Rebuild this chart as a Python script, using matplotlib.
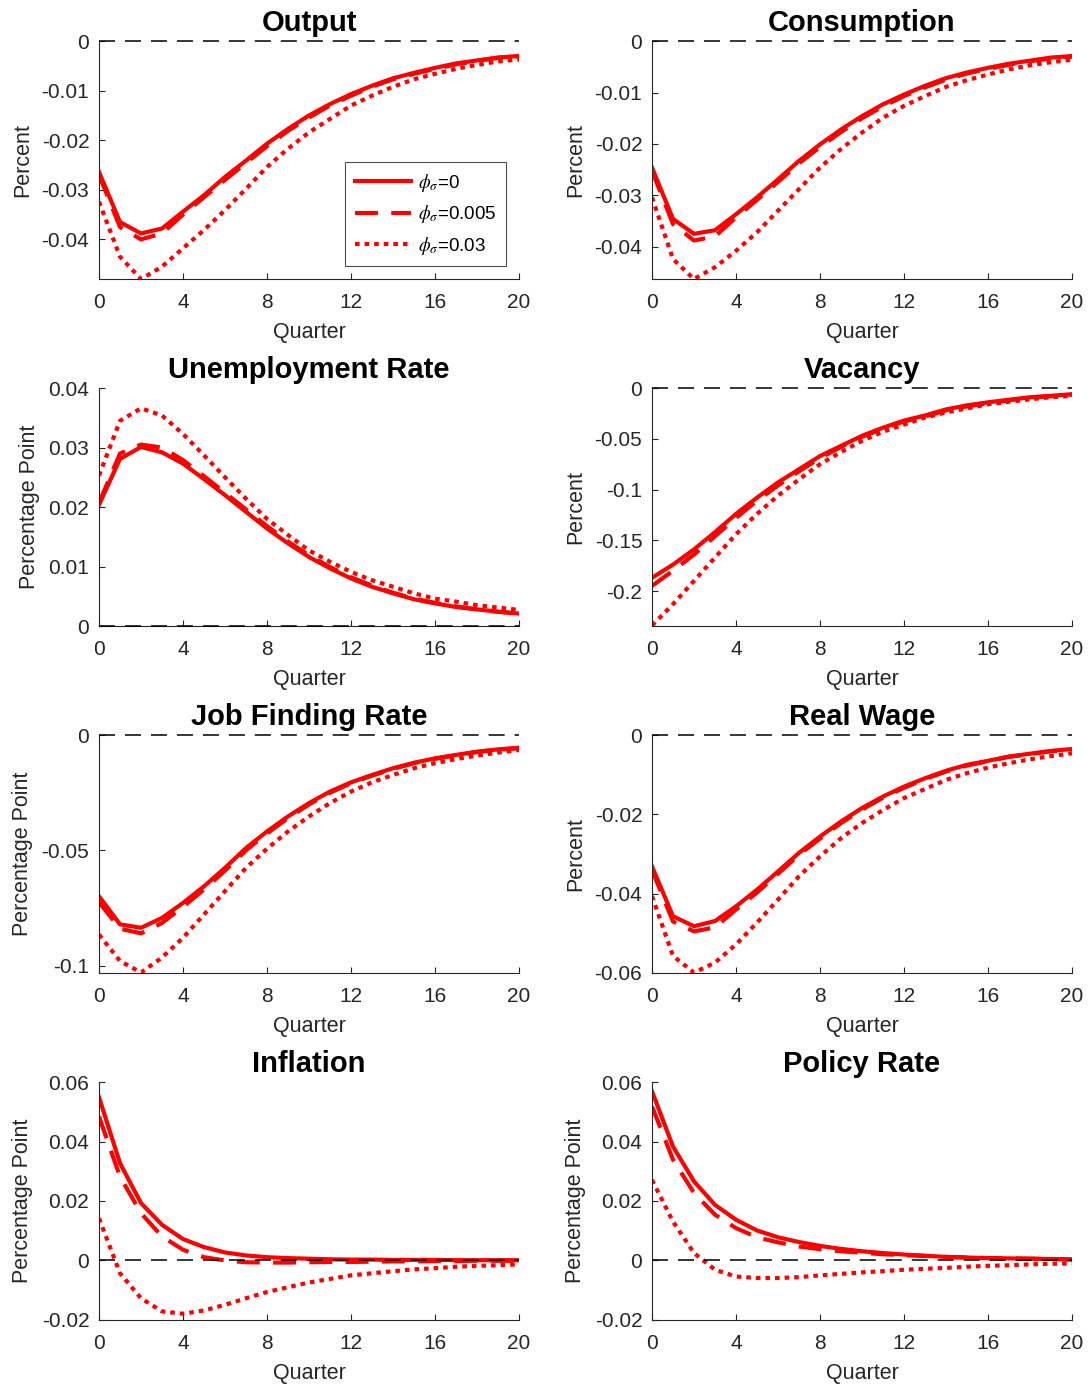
import numpy as np
import matplotlib
matplotlib.use("Agg")
import matplotlib.pyplot as plt
from matplotlib.ticker import FuncFormatter

plt.rcParams['font.family'] = ['Liberation Sans', 'DejaVu Sans']
plt.rcParams['axes.unicode_minus'] = False
plt.rcParams['mathtext.fontset'] = 'stix'

quarters = np.arange(21)

# impulse responses: phi_sigma = 0 / 0.005 / 0.03
output_0 = [-0.0264, -0.0365, -0.0388, -0.0378, -0.0344, -0.0311, -0.0274, -0.0241, -0.0207, -0.0177,
            -0.0150, -0.0127, -0.0107, -0.0090, -0.0075, -0.0064, -0.0054, -0.0045, -0.0039, -0.0033, -0.0030]
output_1 = [-0.0270, -0.0375, -0.0400, -0.0388, -0.0350, -0.0315, -0.0280, -0.0246, -0.0212, -0.0181,
            -0.0154, -0.0130, -0.0110, -0.0092, -0.0077, -0.0066, -0.0056, -0.0047, -0.0040, -0.0034, -0.0031]
output_2 = [-0.0324, -0.0435, -0.0480, -0.0455, -0.0418, -0.0381, -0.0341, -0.0298, -0.0254, -0.0217,
            -0.0184, -0.0157, -0.0130, -0.0110, -0.0092, -0.0077, -0.0066, -0.0056, -0.0048, -0.0041, -0.0037]

cons_0 = [-0.0246, -0.0346, -0.0375, -0.0368, -0.0337, -0.0304, -0.0269, -0.0233, -0.0201, -0.0172,
          -0.0146, -0.0123, -0.0104, -0.0087, -0.0072, -0.0061, -0.0052, -0.0044, -0.0038, -0.0032, -0.0029]
cons_1 = [-0.0252, -0.0356, -0.0388, -0.0380, -0.0343, -0.0309, -0.0274, -0.0238, -0.0206, -0.0177,
          -0.0150, -0.0127, -0.0107, -0.0090, -0.0075, -0.0063, -0.0054, -0.0046, -0.0039, -0.0034, -0.0030]
cons_2 = [-0.0304, -0.0424, -0.0463, -0.0440, -0.0408, -0.0372, -0.0330, -0.0288, -0.0246, -0.0210,
          -0.0178, -0.0149, -0.0126, -0.0107, -0.0089, -0.0076, -0.0065, -0.0055, -0.0047, -0.0041, -0.0036]

unemp_0 = [0.0204, 0.0281, 0.0301, 0.0292, 0.0273, 0.0247, 0.0220, 0.0192, 0.0164, 0.0139,
           0.0116, 0.0097, 0.0080, 0.0066, 0.0055, 0.0045, 0.0038, 0.0032, 0.0028, 0.0024, 0.0021]
unemp_1 = [0.0207, 0.0290, 0.0305, 0.0300, 0.0279, 0.0252, 0.0224, 0.0196, 0.0168, 0.0142,
           0.0119, 0.0099, 0.0082, 0.0068, 0.0056, 0.0046, 0.0039, 0.0033, 0.0028, 0.0024, 0.0021]
unemp_2 = [0.0253, 0.0345, 0.0366, 0.0354, 0.0323, 0.0287, 0.0250, 0.0214, 0.0180, 0.0153,
           0.0127, 0.0108, 0.0091, 0.0077, 0.0066, 0.0055, 0.0046, 0.0041, 0.0035, 0.0031, 0.0027]

vac_0 = [-0.187, -0.174, -0.159, -0.142, -0.124, -0.108, -0.093, -0.080, -0.067, -0.057,
         -0.047, -0.039, -0.032, -0.027, -0.021, -0.017, -0.014, -0.0115, -0.009, -0.0076, -0.006]
vac_1 = [-0.195, -0.180, -0.164, -0.146, -0.128, -0.111, -0.096, -0.082, -0.069, -0.058,
         -0.048, -0.040, -0.033, -0.028, -0.022, -0.018, -0.015, -0.012, -0.0095, -0.008, -0.0065]
vac_2 = [-0.234, -0.213, -0.190, -0.167, -0.144, -0.124, -0.106, -0.090, -0.075, -0.063,
         -0.052, -0.043, -0.036, -0.029, -0.024, -0.020, -0.016, -0.0135, -0.011, -0.009, -0.0076]

jfr_0 = [-0.0699, -0.0821, -0.0836, -0.0793, -0.0728, -0.0656, -0.0576, -0.0490, -0.0418, -0.0353,
         -0.0295, -0.0245, -0.0205, -0.0173, -0.0144, -0.0120, -0.0101, -0.0086, -0.0072, -0.0062, -0.0055]
jfr_1 = [-0.0725, -0.0840, -0.0860, -0.0815, -0.0745, -0.0670, -0.0588, -0.0500, -0.0427, -0.0360,
         -0.0301, -0.0250, -0.0209, -0.0176, -0.0147, -0.0122, -0.0103, -0.0088, -0.0074, -0.0064, -0.0057]
jfr_2 = [-0.0865, -0.0980, -0.1030, -0.0965, -0.0879, -0.0778, -0.0677, -0.0576, -0.0493, -0.0418,
         -0.0353, -0.0295, -0.0245, -0.0205, -0.0173, -0.0144, -0.0122, -0.0104, -0.0089, -0.0076, -0.0065]

wage_0 = [-0.0331, -0.0457, -0.0482, -0.0469, -0.0432, -0.0390, -0.0344, -0.0297, -0.0256, -0.0218,
          -0.0184, -0.0155, -0.0130, -0.0109, -0.0090, -0.0075, -0.0065, -0.0054, -0.0047, -0.0040, -0.0035]
wage_1 = [-0.0340, -0.0470, -0.0495, -0.0485, -0.0440, -0.0397, -0.0350, -0.0302, -0.0261, -0.0222,
          -0.0188, -0.0158, -0.0133, -0.0111, -0.0092, -0.0077, -0.0066, -0.0055, -0.0048, -0.0041, -0.0036]
wage_2 = [-0.0406, -0.0557, -0.0599, -0.0574, -0.0528, -0.0473, -0.0415, -0.0356, -0.0306, -0.0260,
          -0.0222, -0.0189, -0.0159, -0.0136, -0.0113, -0.0096, -0.0082, -0.0071, -0.0061, -0.0053, -0.0046]

infl_0 = [0.0549, 0.0327, 0.0193, 0.0120, 0.0072, 0.0045, 0.0027, 0.0017, 0.0011, 0.0008,
          0.0006, 0.0004, 0.0003, 0.0003, 0.0002, 0.0002, 0.0002, 0.0001, 0.0001, 0.0001, 0.0001]
infl_1 = [0.0484, 0.0282, 0.0159, 0.0081, 0.0036, 0.0011, 0.0000, -0.0006, -0.0007, -0.0007,
          -0.0006, -0.0005, -0.0005, -0.0004, -0.0003, -0.0003, -0.0002, -0.0002, -0.0001, -0.0001, -0.0001]
infl_2 = [0.0142, -0.0043, -0.0127, -0.0171, -0.0179, -0.0168, -0.0149, -0.0127, -0.0106, -0.0090,
          -0.0074, -0.0062, -0.0050, -0.0043, -0.0036, -0.0030, -0.0026, -0.0021, -0.0018, -0.0016, -0.0013]

rate_0 = [0.0569, 0.0383, 0.0266, 0.0187, 0.0137, 0.0101, 0.0078, 0.0062, 0.0049, 0.0039,
          0.0031, 0.0025, 0.0020, 0.0016, 0.0012, 0.0010, 0.0008, 0.0007, 0.0006, 0.0005, 0.0004]
rate_1 = [0.0518, 0.0339, 0.0227, 0.0154, 0.0109, 0.0078, 0.0061, 0.0047, 0.0038, 0.0031,
          0.0026, 0.0021, 0.0018, 0.0015, 0.0012, 0.0010, 0.0008, 0.0007, 0.0006, 0.0005, 0.0003]
rate_2 = [0.0271, 0.0131, 0.0025, -0.0031, -0.0054, -0.0059, -0.0059, -0.0056, -0.0050, -0.0045,
          -0.0040, -0.0036, -0.0031, -0.0028, -0.0025, -0.0021, -0.0018, -0.0016, -0.0013, -0.0011, -0.0010]

titles = ["Output", "Consumption", "Unemployment Rate", "Vacancy",
          "Job Finding Rate", "Real Wage", "Inflation", "Policy Rate"]
ylabels = ["Percent", "Percent", "Percentage Point", "Percent",
           "Percentage Point", "Percent", "Percentage Point", "Percentage Point"]
series = [(output_0, output_1, output_2), (cons_0, cons_1, cons_2),
          (unemp_0, unemp_1, unemp_2), (vac_0, vac_1, vac_2),
          (jfr_0, jfr_1, jfr_2), (wage_0, wage_1, wage_2),
          (infl_0, infl_1, infl_2), (rate_0, rate_1, rate_2)]
ylims = [(-0.048, 0), (-0.0463, 0), (0, 0.04), (-0.2345, 0),
         (-0.1032, 0), (-0.06, 0), (-0.02, 0.06), (-0.02, 0.06)]
yticks = [[-0.04, -0.03, -0.02, -0.01, 0], [-0.04, -0.03, -0.02, -0.01, 0],
          [0, 0.01, 0.02, 0.03, 0.04], [-0.2, -0.15, -0.1, -0.05, 0],
          [-0.1, -0.05, 0], [-0.06, -0.04, -0.02, 0],
          [-0.02, 0, 0.02, 0.04, 0.06], [-0.02, 0, 0.02, 0.04, 0.06]]
labels = [r"$\phi_\sigma$=0", r"$\phi_\sigma$=0.005", r"$\phi_\sigma$=0.03"]

gray = '#262626'
fig = plt.figure(figsize=(10.89, 13.89), dpi=100)

lefts = [0.0909, 0.5987]
bottoms = [0.7991, 0.5493, 0.2995, 0.0497]
w, h = 0.3857, 0.1713

fmt = FuncFormatter(lambda v, p: '%g' % round(v, 4))

for i in range(8):
    ax = fig.add_axes([lefts[i % 2], bottoms[i // 2], w, h])
    s0, s1, s2 = series[i]
    ax.plot(quarters, s0, color='red', lw=3, label=labels[0])
    ax.plot(quarters, s1, color='red', lw=3, dashes=(5.5, 3.2), label=labels[1])
    ax.plot(quarters, s2, color='red', lw=3, dashes=(1.1, 1.2), label=labels[2])
    ax.plot([0, 20], [0, 0], color='black', lw=1.1, dashes=(10.5, 6.5), zorder=5, clip_on=False)

    ax.set_xlim(0, 20)
    ax.set_ylim(*ylims[i])
    ax.set_xticks([0, 4, 8, 12, 16, 20])
    ax.set_yticks(yticks[i])
    ax.yaxis.set_major_formatter(fmt)
    ax.spines['top'].set_visible(False)
    ax.spines['right'].set_visible(False)
    for sp in ['left', 'bottom']:
        ax.spines[sp].set_color(gray)
        ax.spines[sp].set_linewidth(0.8)
    ax.tick_params(direction='in', length=4, width=0.8, color=gray,
                   labelcolor=gray, labelsize=15)
    ax.tick_params(axis='x', pad=10)
    ax.tick_params(axis='y', pad=7)
    ax.set_title(titles[i], fontsize=21, fontweight='bold', pad=7)
    ax.set_xlabel("Quarter", fontsize=15.5, color=gray, labelpad=7)
    ax.set_ylabel(ylabels[i], fontsize=15.5, color=gray, labelpad=6)

    if i == 0:
        leg = ax.legend(loc='lower right', bbox_to_anchor=(0.969, 0.055), fontsize=13.5,
                        handlelength=3.0, fancybox=False, edgecolor=gray,
                        borderpad=0.5, labelspacing=0.5, handletextpad=0.4,
                        borderaxespad=0)
        leg.get_frame().set_linewidth(0.8)

fig.savefig("out.png", dpi=100)
